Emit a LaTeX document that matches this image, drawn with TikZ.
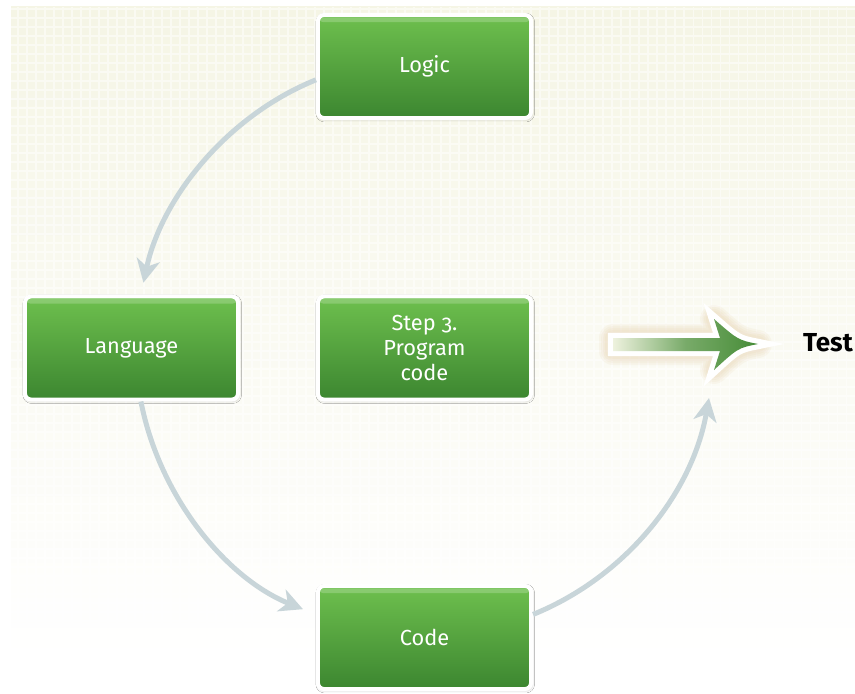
\documentclass[tikz,border=0pt]{standalone}
\usepackage{fontspec}
\setmainfont{Fira Sans}[Numbers=OldStyle]
\usepackage{tikz}
\usetikzlibrary{arrows.meta}
\usetikzlibrary{shadows.blur}
\definecolor{bgcream}{RGB}{245,245,229}
\definecolor{boxtop}{RGB}{110,192,78}
\definecolor{boxbottom}{RGB}{60,134,48}
\definecolor{flowgray}{RGB}{200,213,217}
\definecolor{arrowgreen}{RGB}{70,140,55}
\definecolor{arrowlight}{RGB}{238,242,222}
\definecolor{glow}{RGB}{222,190,140}
\newcommand{\testshape}{(613,342) -- (720,342) -- (714,323) .. controls (738,345) .. (758,349) .. controls (738,353) .. (714,374) -- (720,355) -- (613,355) -- cycle}

\begin{document}
\begin{tikzpicture}[x=0.025cm, y=0.025cm,
        box/.style={draw=white, line width=0.1cm, rounded corners=0.15cm,
            top color=boxtop, bottom color=boxbottom,
            minimum width=5.325cm, minimum height=2.575cm,
            text=white, align=center, font=\fontsize{15.5}{18}\selectfont,
            blur shadow={shadow xshift=0.5pt, shadow yshift=-0.8pt, shadow blur radius=2pt, shadow opacity=30},
            path picture={\fill [white, opacity=0.2] ([yshift=-0.06cm]path picture bounding box.north west) rectangle ([yshift=-0.18cm]path picture bounding box.north east);}},
        flow/.style={draw=flowgray, line width=0.125cm, -{Stealth[length=0.58cm, width=0.58cm, inset=0.17cm]}}]
        \useasboundingbox (0, 0) rectangle (855, 693);
        \fill [white] (0, 0) rectangle (855, 693);
        \shade [top color=bgcream, bottom color=white] (11, 33) rectangle (855, 686);
        \draw [white, line width=1pt, opacity=0.5, step=0.225cm] (11, 33) grid (855, 686);

        \node [box] (logic) at (424.5, 626.5) {Logic};
        \node [box] (lang) at (131.5, 345) {Language};
        \node [box] (prog) at (424.5, 345) {Step 3.\\Program\\code};
        \node [box] (code) at (424.5, 55.5) {Code};
        \coordinate (aim) at (709, 295);

        \draw [flow, shorten >=0.3cm] (logic.187) to [out=202, in=78, looseness=0.9] (lang.80);
        \draw [flow, shorten >=0.35cm] (lang.-80) to [out=281, in=158, looseness=0.9] (code.168);
        \draw [flow] (code.12) to [out=22, in=260, looseness=0.9] (aim);

        \foreach \w in {0.7, 0.6, 0.5, 0.4}
            \draw [glow, opacity=0.09, line width=\w cm, line join=round] \testshape;
        \draw [white, line width=0.26cm, line join=miter, miter limit=8] \testshape;
        \shade [left color=arrowlight, right color=arrowgreen, middle color=arrowgreen!70!arrowlight] \testshape;
        \node [font=\bfseries\fontsize{18.5}{22}\selectfont] (test) at (828, 350) {Test};
    \end{tikzpicture}
\end{document}
